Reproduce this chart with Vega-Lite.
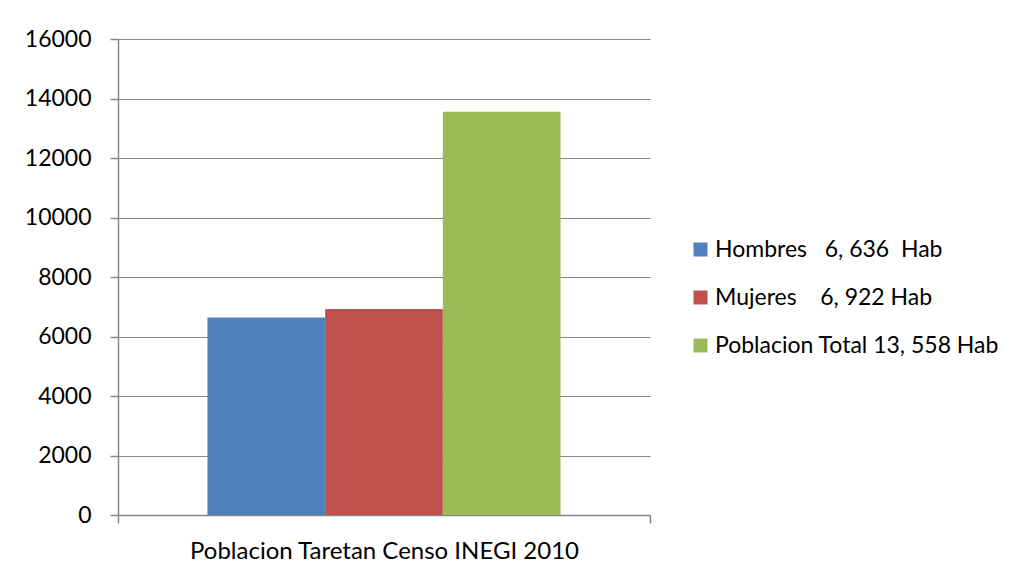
{
  "$schema": "https://vega.github.io/schema/vega-lite/v6.json",
  "autosize": {"type": "none"},
  "padding": {"left": 118, "top": 39, "right": 379, "bottom": 60},
  "width": 532,
  "height": 476,
  "background": "white",
  "config": {
    "font": "Lato",
    "view": {"stroke": null},
    "axis": {"labelFont": "Lato", "labelColor": "#000000", "domainColor": "#868686", "tickColor": "#868686", "gridColor": "#868686", "ticks": true}
  },
  "data": {
    "values": [
      {"grupo": "Poblacion Taretan Censo INEGI 2010", "serie": "Hombres\u00a0\u00a0\u00a06,\u00a0636\u00a0\u00a0Hab", "valor": 6636},
      {"grupo": "Poblacion Taretan Censo INEGI 2010", "serie": "Mujeres\u00a0\u00a0\u00a0\u00a06,\u00a0922 Hab", "valor": 6922},
      {"grupo": "Poblacion Taretan Censo INEGI 2010", "serie": "Poblacion Total 13,\u00a0558 Hab", "valor": 13558}
    ]
  },
  "mark": {"type": "bar"},
  "encoding": {
    "x": {
      "field": "grupo", "type": "nominal",
      "scale": {"paddingInner": 0, "paddingOuter": 0},
      "axis": {"title": null, "labelAngle": 0, "labelFontSize": 24, "labelPadding": 16, "labelLimit": 700, "labelBaseline": "top", "tickBand": "extent", "tickSize": 8, "domainWidth": 1.5, "tickWidth": 1.5}
    },
    "xOffset": {
      "field": "serie", "type": "nominal",
      "scale": {"paddingInner": 0, "paddingOuter": 0.76}
    },
    "y": {
      "field": "valor", "type": "quantitative",
      "scale": {"domain": [0, 16000], "nice": false},
      "axis": {"title": null, "values": [0, 2000, 4000, 6000, 8000, 10000, 12000, 14000, 16000], "format": "d", "labelFontSize": 23, "labelPadding": 19, "tickSize": 8, "tickWidth": 1.5, "grid": true, "gridWidth": 1, "domainWidth": 1.5}
    },
    "color": {
      "field": "serie", "type": "nominal",
      "scale": {"range": ["#4F81BD", "#C0504D", "#9BBB59"]},
      "legend": {
        "title": null, "orient": "none", "legendX": 571, "legendY": 199,
        "symbolType": "square", "symbolSize": 196, "symbolStrokeWidth": 0,
        "labelFontSize": 23, "labelFont": "Lato", "labelColor": "#000000", "rowPadding": 24, "labelOffset": 3, "labelLimit": 400
      }
    }
  }
}
